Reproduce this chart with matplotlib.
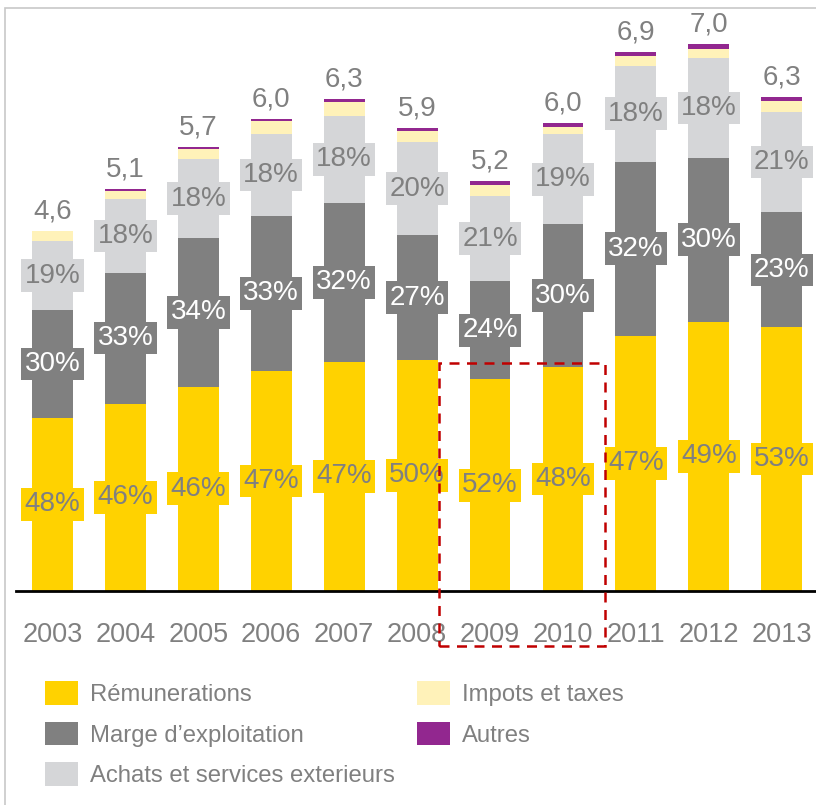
"""Stacked bars: cost breakdown per year, with share labels and totals."""

import matplotlib
matplotlib.use("Agg")
import matplotlib.pyplot as plt
from matplotlib.patches import Rectangle

plt.rcParams["font.family"] = ["Liberation Sans", "DejaVu Sans"]

YEARS = ["2003", "2004", "2005", "2006", "2007", "2008", "2009", "2010", "2011", "2012", "2013"]
TOTALS = ["4,6", "5,1", "5,7", "6,0", "6,3", "5,9", "5,2", "6,0", "6,9", "7,0", "6,3"]

REMUNERATIONS = [2.22, 2.40, 2.62, 2.82, 2.94, 2.96, 2.71, 2.87, 3.27, 3.45, 3.38]
MARGE = [1.38, 1.68, 1.90, 1.99, 2.03, 1.60, 1.26, 1.83, 2.23, 2.10, 1.47]
ACHATS = [0.88, 0.94, 1.01, 1.04, 1.12, 1.19, 1.09, 1.15, 1.23, 1.28, 1.29]
IMPOTS = [0.13, 0.10, 0.13, 0.17, 0.17, 0.15, 0.14, 0.10, 0.13, 0.12, 0.14]
AUTRES = [0.00, 0.03, 0.03, 0.03, 0.05, 0.03, 0.05, 0.05, 0.05, 0.06, 0.05]

PCT_REMUN = ["48%", "46%", "46%", "47%", "47%", "50%", "52%", "48%", "47%", "49%", "53%"]
PCT_MARGE = ["30%", "33%", "34%", "33%", "32%", "27%", "24%", "30%", "32%", "30%", "23%"]
PCT_ACHATS = ["19%", "18%", "18%", "18%", "18%", "20%", "21%", "19%", "18%", "18%", "21%"]

LABELS = ["Rémunerations", "Marge d’exploitation", "Achats et services exterieurs",
          "Impots et taxes", "Autres"]
COLORS = ["#FFD200", "#808080", "#D5D6D8", "#FFF2B9", "#92278F"]
TXT = "#808080"

W, H = 816, 805


def main():
    fig = plt.figure(figsize=(W / 100, H / 100), dpi=100)
    # axes from x=16px to right edge, baseline at y=591px, top at y=8px
    ax = fig.add_axes([16 / W, (H - 591) / H, 1 - 16 / W, (591 - 8) / H])

    # light frame around the whole picture (left/top edges visible)
    fig.add_artist(Rectangle((5 / W, -0.05), 1.2, (H - 8) / H + 0.05, transform=fig.transFigure,
                             fill=False, edgecolor="#C8C8C8", lw=1.2))

    series = [REMUNERATIONS, MARGE, ACHATS, IMPOTS, AUTRES]
    x = list(range(len(YEARS)))
    bottom = [0.0] * len(YEARS)
    bars = []
    for vals, col, lab in zip(series, COLORS, LABELS):
        b = ax.bar(x, vals, width=0.56, bottom=bottom, color=col, label=lab, zorder=2)
        bars.append(b)
        bottom = [bo + v for bo, v in zip(bottom, vals)]

    # share labels inside the three main segments
    seg_bottom = [0.0] * len(YEARS)
    for vals, pcts, col, tc in [(REMUNERATIONS, PCT_REMUN, COLORS[0], TXT),
                                (MARGE, PCT_MARGE, COLORS[1], "white"),
                                (ACHATS, PCT_ACHATS, COLORS[2], TXT)]:
        for i, (v, p) in enumerate(zip(vals, pcts)):
            ax.text(i, seg_bottom[i] + v / 2, p, ha="center", va="center", fontsize=20,
                    color=tc, zorder=4,
                    bbox=dict(boxstyle="square,pad=0.12", fc=col, ec="none"))
        seg_bottom = [bo + v for bo, v in zip(seg_bottom, vals)]

    for i, t in enumerate(TOTALS):
        ax.annotate(t, xy=(i, bottom[i]), xytext=(0, 9), textcoords="offset points",
                    ha="center", va="baseline", fontsize=20, color=TXT)

    # highlight 2009-2010
    ax.add_patch(Rectangle((5.30, -0.705), 2.27, 2.92 + 0.705, fill=False, ls=(0, (4, 3)),
                           edgecolor="#C00000", lw=1.8, clip_on=False, zorder=5))

    ax.set_xlim(-0.5, 10.47)
    ax.set_ylim(0, 7.47)
    ax.set_xticks(x, YEARS)
    ax.tick_params(axis="x", length=0, pad=22, labelsize=19.5, labelcolor=TXT)
    ax.set_yticks([])
    for s in ["top", "left", "right"]:
        ax.spines[s].set_visible(False)
    ax.spines["bottom"].set_linewidth(2)
    ax.spines["bottom"].set_color("black")
    ax.set_facecolor("none")

    fig.legend(handles=bars, labels=LABELS, ncol=2, loc="upper left",
               bbox_to_anchor=(45 / W, 1 - 681 / H), frameon=False, fontsize=17.2,
               labelcolor=TXT, handlelength=1.4, handleheight=1.15, handletextpad=0.5,
               labelspacing=0.66, columnspacing=0.9, borderpad=0, borderaxespad=0)

    fig.savefig("out.png", dpi=100)


if __name__ == "__main__":
    main()
